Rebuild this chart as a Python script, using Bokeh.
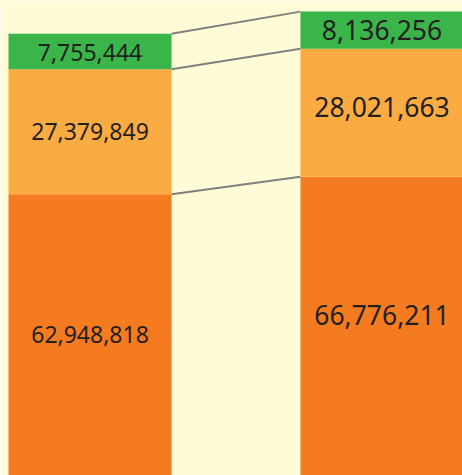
from bokeh.plotting import figure
from bokeh.models import Range1d, ColumnDataSource
from bokeh.core.properties import value
from bokeh.embed import file_html
from bokeh.resources import INLINE

# Data
bars = ["A", "B"]
bottom_vals = [62948818, 66776211]
middle_vals = [27379849, 28021663]
top_vals = [7755444, 8136256]

colors = ["#F57B20", "#FAAC42", "#3AB54A"]
bg = "#FFFBD6"

# layout (bar units)
bar_w = 1.0
centers = [0.5, 2.291]
font_sizes = ["23px", "26.5px"]

p = figure(width=462, height=475, output_backend="svg", toolbar_location=None,
           x_range=Range1d(-0.0491, 2.785), y_range=Range1d(1.314e6, 105.37e6),
           min_border=0)
p.axis.visible = False
p.grid.visible = False
p.outline_line_color = None
p.background_fill_color = bg
p.border_fill_color = bg

series = [bottom_vals, middle_vals, top_vals]
base = [0, 0]
tops_all = []
for vals, col in zip(series, colors):
    b = list(base)
    t = [bb + v for bb, v in zip(b, vals)]
    src = ColumnDataSource(dict(x=centers, bottom=b, top=t))
    p.vbar(x="x", width=bar_w, bottom="bottom", top="top", source=src,
           fill_color=col, line_color=None)
    tops_all.append(t)
    base = t

# connecting lines
for t in tops_all:
    p.segment(x0=[centers[0] + bar_w / 2], y0=[t[0]],
              x1=[centers[1] - bar_w / 2], y1=[t[1]],
              line_color="#808080", line_width=2)

# labels
offsets = [[0, -11], [0, -6], [1, 0]]
base = [0, 0]
ystart = p.y_range.start
for i, vals in enumerate(series):
    for j in range(2):
        lo = max(base[j], ystart)
        ymid = (lo + base[j] + vals[j]) / 2
        p.text(x=[centers[j]], y=[ymid], text=[f"{vals[j]:,}"],
               text_align="center", text_baseline="middle",
               text_font=value("Noto Sans"), text_font_size=font_sizes[j],
               text_color="#231F20", y_offset=offsets[i][j])
    base = [b + v for b, v in zip(base, vals)]

html = file_html(p, INLINE)
html = html.replace("<body>", f'<body style="background:{bg};">', 1)
open("out.html", "w").write(html)
